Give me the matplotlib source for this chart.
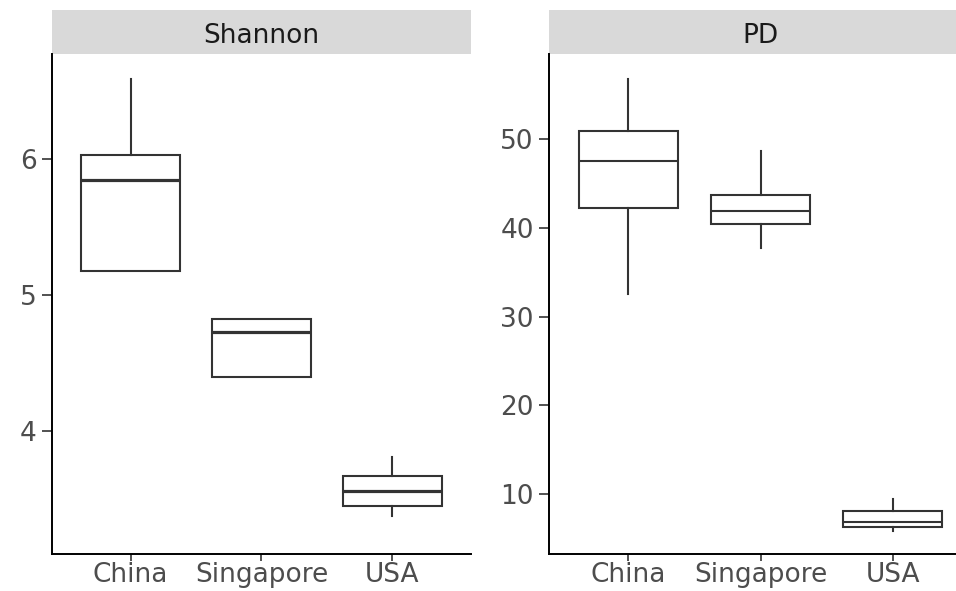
import numpy as np
import matplotlib
matplotlib.use("Agg")
import matplotlib.pyplot as plt
from matplotlib.patches import Rectangle

# data (box stats per site)
groups = ["China", "Singapore", "USA"]

shannon_low = [5.176, 4.395, 3.375]
shannon_q1 = [5.176, 4.395, 3.449]
shannon_med = [5.846, 4.728, 3.561]
shannon_q3 = [6.030, 4.821, 3.671]
shannon_high = [6.588, 4.825, 3.807]

pd_low = [32.5, 37.7, 5.8]
pd_q1 = [42.3, 40.5, 6.25]
pd_med = [47.55, 41.9, 6.8]
pd_q3 = [50.9, 43.7, 8.0]
pd_high = [56.8, 48.7, 9.4]

BOX_COL = "#333333"
TXT_COL = "#4D4D4D"
FS = 19


def make_stats(low, q1, med, q3, high):
    stats = []
    for i in range(len(groups)):
        stats.append(dict(whislo=low[i], q1=q1[i], med=med[i], q3=q3[i],
                          whishi=high[i], fliers=[], label=groups[i]))
    return stats


def draw_panel(ax, stats, title, ylim, yticks, med_lw):
    ax.bxp(stats, positions=[1, 2, 3], widths=0.75, showcaps=False,
           showfliers=False, patch_artist=True,
           boxprops=dict(facecolor="white", edgecolor=BOX_COL, linewidth=1.5),
           whiskerprops=dict(color=BOX_COL, linewidth=1.5),
           medianprops=dict(color=BOX_COL, linewidth=med_lw))
    ax.set_xlim(0.4, 3.6)
    ax.set_ylim(*ylim)
    ax.set_yticks(yticks)
    ax.set_xticks([1, 2, 3])
    ax.set_xticklabels(groups)
    for s in ["top", "right"]:
        ax.spines[s].set_visible(False)
    for s in ["left", "bottom"]:
        ax.spines[s].set_linewidth(1.4)
        ax.spines[s].set_color("black")
    ax.tick_params(axis="x", length=5, width=1.2, color=BOX_COL,
                   labelsize=FS, labelcolor=TXT_COL, pad=1)
    ax.tick_params(axis="y", length=7, width=1.2, color=BOX_COL,
                   labelsize=FS, labelcolor=TXT_COL, pad=4)
    # facet strip
    strip_h = 0.088
    ax.add_patch(Rectangle((0, 1), 1, strip_h, transform=ax.transAxes,
                           facecolor="#D9D9D9", edgecolor="none", clip_on=False))
    ax.text(0.5, 1 + strip_h * 0.4, title, transform=ax.transAxes,
            ha="center", va="center", fontsize=FS, color="#1A1A1A")


fig = plt.figure(figsize=(9.56, 5.91), dpi=100)
ax1 = fig.add_axes([52 / 956, 1 - 554 / 591, 419 / 956, 500 / 591])
ax2 = fig.add_axes([549 / 956, 1 - 554 / 591, 423 / 956, 500 / 591])

draw_panel(ax1, make_stats(shannon_low, shannon_q1, shannon_med, shannon_q3, shannon_high),
           "Shannon", (3.096, 6.772), [4, 5, 6], 2.3)
draw_panel(ax2, make_stats(pd_low, pd_q1, pd_med, pd_q3, pd_high),
           "PD", (3.19, 59.64), [10, 20, 30, 40, 50], 1.5)

fig.savefig("out.png", dpi=100)
